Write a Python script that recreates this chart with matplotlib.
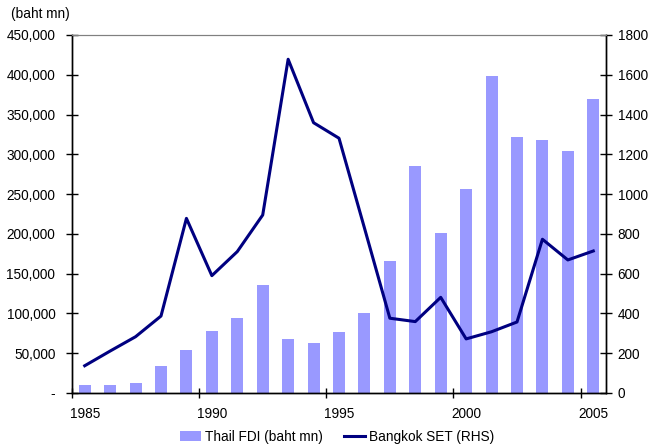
import matplotlib
matplotlib.use("Agg")
import matplotlib.pyplot as plt
from matplotlib.ticker import FixedLocator, FuncFormatter

plt.rcParams['font.family'] = ['Liberation Sans', 'DejaVu Sans']
plt.rcParams['font.size'] = 9.8

# data
years = list(range(1985, 2006))
fdi = [10500, 10500, 13000, 34000, 54000, 78000, 94500, 135500, 67500, 62500,
       76500, 100000, 166000, 285000, 201000, 256000, 398000, 322000, 318000, 304000, 369500]
set_index = [137, 211, 283, 387, 878, 590, 711, 895, 1678, 1359,
             1281, 830, 376, 359, 481, 272, 308, 357, 773, 669, 714]
year_labels = ['1985', '1990', '1995', '2000', '2005']

bar_color = '#9999FF'
line_color = '#000080'

fig = plt.figure(figsize=(6.49, 4.47), dpi=100)
ax = fig.add_axes([72 / 649, 1 - 393 / 447, (606 - 72) / 649, (393 - 35) / 447])
ax2 = ax.twinx()

pos = list(range(len(years)))
bars = ax.bar(pos, fdi, width=0.47, color=bar_color, zorder=2, label='Thail FDI (baht mn)')
ln, = ax2.plot(pos, set_index, color=line_color, lw=2.2, label='Bangkok SET (RHS)')

ax.set_xlim(-0.5, len(years) - 0.5)
ax.set_ylim(0, 450000)
ax2.set_ylim(0, 1800)
ax.set_yticks(range(0, 450001, 50000))
ax.yaxis.set_major_formatter(FuncFormatter(lambda v, p: '-' if v == 0 else f'{int(v):,}'))
ax2.set_yticks(range(0, 1801, 200))

# category axis: ticks on boundaries, labels centered on categories
label_idx = [years.index(int(y)) for y in year_labels]
ax.xaxis.set_major_locator(FixedLocator([i - 0.5 for i in label_idx]))
ax.xaxis.set_minor_locator(FixedLocator(label_idx))
ax.set_xticklabels([''] * len(label_idx))
ax.set_xticklabels(year_labels, minor=True)
ax.tick_params(axis='x', which='major', direction='inout', length=7, width=1)
ax.tick_params(axis='x', which='minor', length=0, pad=10)
ax.tick_params(axis='y', direction='inout', length=8, width=1, pad=8)
ax2.tick_params(axis='y', direction='inout', length=8, width=1, pad=4.3)

for a in (ax, ax2):
    a.spines['top'].set_color('#808080')
    a.spines['top'].set_linewidth(0.8)
    for s in ('left', 'right', 'bottom'):
        a.spines[s].set_linewidth(1)
        a.spines[s].set_color('black')

fig.text(11 / 649, 1 - 14 / 447, '(baht mn)', ha='left', va='center')

fig.legend([bars, ln], ['Thail FDI (baht mn)', 'Bangkok SET (RHS)'], loc='center',
           bbox_to_anchor=(337 / 649, 1 - 437 / 447), ncol=2, frameon=False,
           handlelength=1.55, handleheight=0.7, columnspacing=1.5, handletextpad=0.3,
           borderpad=0.1)

fig.savefig('out.png', dpi=100)
